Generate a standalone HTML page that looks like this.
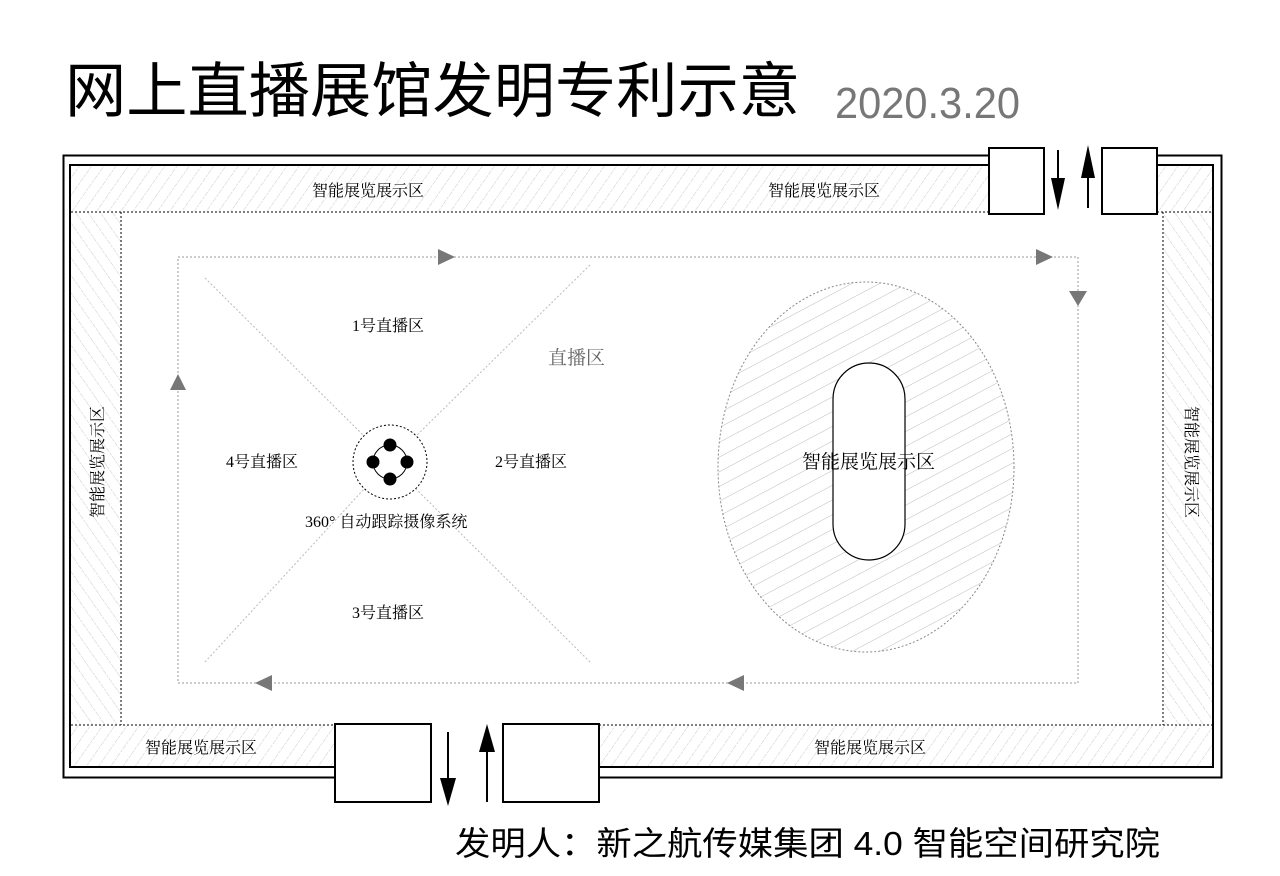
<!DOCTYPE html>
<html><head><meta charset="utf-8"><style>html,body{margin:0;padding:0;background:#fff}svg{display:block}</style></head><body>
<svg width="1280" height="876" viewBox="0 0 1280 876" xmlns="http://www.w3.org/2000/svg" font-family="Liberation Sans, Noto Sans CJK SC, sans-serif">
<defs>
<pattern id="h1" width="10" height="10" patternUnits="userSpaceOnUse" patternTransform="rotate(35)"><line x1="0" y1="0" x2="0" y2="10" stroke="#bbb" stroke-width="0.8" stroke-dasharray="3,1"/></pattern>
<pattern id="h2" width="10" height="10" patternUnits="userSpaceOnUse" patternTransform="rotate(-35)"><line x1="0" y1="0" x2="0" y2="10" stroke="#bbb" stroke-width="0.8" stroke-dasharray="3,1"/></pattern>
<pattern id="h3" width="13" height="13" patternUnits="userSpaceOnUse" patternTransform="rotate(62)"><line x1="0" y1="0" x2="0" y2="13" stroke="#bbb" stroke-width="1"/></pattern>
</defs>
<text x="65" y="112" font-size="60" textLength="735" lengthAdjust="spacingAndGlyphs" fill="#000">网上直播展馆发明专利示意</text>
<text x="835" y="118" font-size="44" textLength="185" lengthAdjust="spacingAndGlyphs" fill="#777">2020.3.20</text>
<rect x="63.5" y="155.5" width="1158" height="622" fill="none" stroke="#000" stroke-width="2"/>
<rect x="70" y="165" width="1143" height="602" fill="#fff" stroke="#000" stroke-width="2"/>
<rect x="71" y="166" width="1141" height="46" fill="url(#h1)"/>
<rect x="71" y="725" width="1141" height="41" fill="url(#h1)"/>
<rect x="71" y="212" width="50" height="513" fill="url(#h2)"/>
<rect x="1164" y="212" width="48" height="513" fill="url(#h2)"/>
<!-- door gaps -->
<rect x="1044" y="150" width="58" height="64" fill="#fff"/>
<rect x="431" y="724" width="72" height="60" fill="#fff"/>
<g stroke="#000" stroke-width="1" stroke-dasharray="2,2" fill="none">
<line x1="71" y1="212" x2="989" y2="212"/>
<line x1="1157" y1="212" x2="1212" y2="212"/>
<line x1="71" y1="725" x2="335" y2="725"/>
<line x1="599" y1="725" x2="1212" y2="725"/>
<line x1="121" y1="212" x2="121" y2="725"/>
<line x1="1163" y1="212" x2="1163" y2="725"/>
</g>
<g font-family="Liberation Serif, Noto Serif CJK SC, serif" font-size="16" fill="#000">
<text x="312" y="196">智能展览展示区</text>
<text x="768" y="196">智能展览展示区</text>
<text x="145" y="753">智能展览展示区</text>
<text x="814" y="753">智能展览展示区</text>
<text transform="translate(103,462) rotate(-90)" text-anchor="middle">智能展览展示区</text>
<text transform="translate(1186,462) rotate(90)" text-anchor="middle">智能展览展示区</text>
</g>
<g fill="#fff" stroke="#000" stroke-width="2">
<rect x="989" y="148" width="55" height="66"/>
<rect x="1102" y="148" width="55" height="66"/>
<rect x="335" y="724" width="96" height="78"/>
<rect x="503" y="724" width="96" height="78"/>
</g>
<g stroke="#000" stroke-width="2">
<line x1="1058" y1="150" x2="1058" y2="195"/>
<line x1="1088" y1="165" x2="1088" y2="208"/>
<line x1="448" y1="732" x2="448" y2="780"/>
<line x1="487" y1="750" x2="487" y2="802"/>
</g>
<g fill="#000">
<polygon points="1051,178 1065,178 1058,210"/>
<polygon points="1081,178 1095,178 1088,145"/>
<polygon points="440,778 456,778 448,806"/>
<polygon points="479,752 495,752 487,724"/>
</g>
<rect x="178" y="257" width="900" height="426" fill="none" stroke="#999" stroke-width="1" stroke-dasharray="2,2"/>
<g fill="#777">
<polygon points="438,249 438,265 455,257"/>
<polygon points="1036,249 1036,265 1053,257"/>
<polygon points="1069,291 1087,291 1078,306"/>
<polygon points="744,675 744,691 727,683"/>
<polygon points="272,675 272,691 255,683"/>
<polygon points="170,390 186,390 178,374"/>
</g>
<g stroke="#bbb" stroke-width="1" stroke-dasharray="2,2">
<line x1="205" y1="278" x2="364" y2="436"/>
<line x1="590" y1="265" x2="416" y2="436"/>
<line x1="205" y1="662" x2="364" y2="489"/>
<line x1="590" y1="662" x2="416" y2="489"/>
</g>
<circle cx="390" cy="462" r="37" fill="#fff" stroke="#000" stroke-width="1" stroke-dasharray="2,2"/>
<circle cx="390" cy="462" r="17" fill="#fff" stroke="#000" stroke-width="1"/>
<g fill="#000"><circle cx="390" cy="445" r="6.5"/><circle cx="390" cy="479" r="6.5"/><circle cx="373" cy="462" r="6.5"/><circle cx="407" cy="462" r="6.5"/></g>
<g font-family="Liberation Serif, Noto Serif CJK SC, serif" font-size="16" fill="#000">
<text x="352" y="331">1号直播区</text>
<text x="495" y="467">2号直播区</text>
<text x="352" y="618">3号直播区</text>
<text x="226" y="467">4号直播区</text>
<text x="305" y="527">360° 自动跟踪摄像系统</text>
<text x="548" y="364" font-size="19" fill="#666">直播区</text>
</g>
<ellipse cx="866" cy="467" rx="148" ry="185" fill="url(#h3)" stroke="#888" stroke-width="1" stroke-dasharray="2,2"/>
<rect x="833" y="363" width="72" height="197" rx="36" ry="36" fill="#fff" stroke="#000" stroke-width="1.2"/>
<text x="802" y="468" font-family="Liberation Serif, Noto Serif CJK SC, serif" font-size="19" fill="#000">智能展览展示区</text>
<text x="455" y="855" font-size="33" textLength="705" lengthAdjust="spacingAndGlyphs" fill="#000">发明人：新之航传媒集团 4.0 智能空间研究院</text>
</svg>
</body></html>
